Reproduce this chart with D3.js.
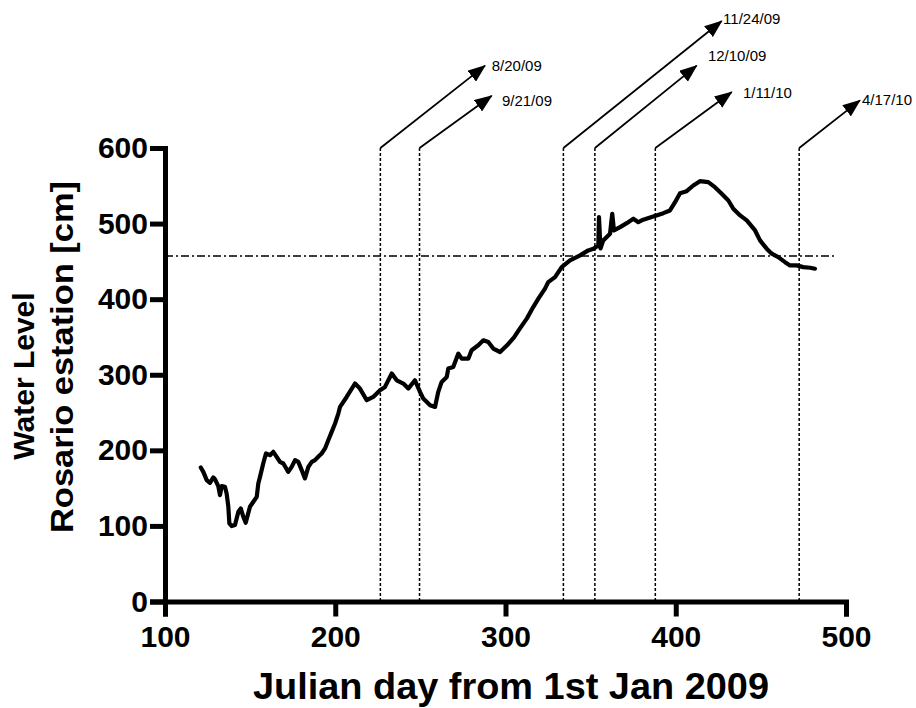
<!DOCTYPE html>
<html>
<head>
<meta charset="utf-8">
<script src="https://cdn.jsdelivr.net/npm/d3@7/dist/d3.min.js"></script>
<style>
  html, body { margin: 0; padding: 0; background: #fff; }
  svg { display: block; }
  text { font-family: "Liberation Sans", Arial, Helvetica, sans-serif; fill: #000; }
</style>
</head>
<body>
<svg id="chart" width="916" height="708"></svg>
<script>
// Water level at Rosario station, by Julian day counted from 1 Jan 2009
const waterDay = [
  121.0, 122.5, 124.5, 126.4, 128.4, 129.4, 131.3, 132.3, 133.3, 135.2,
  136.2, 137.2, 137.8, 139.2, 141.1, 143.1, 144.5, 146.0, 147.4, 148.6,
  149.9, 151.9, 153.9, 154.8, 155.8, 157.7, 159.3, 161.7, 163.6, 165.6,
  167.5, 169.5, 172.4, 174.4, 176.4, 178.3, 180.3, 182.2, 184.2, 186.2,
  188.1, 190.0, 192.0, 194.0, 195.9, 197.9, 199.9, 201.8, 202.8, 206.7,
  211.6, 214.5, 218.5, 222.3, 226.3, 229.2, 233.2, 236.1, 240.0, 242.9,
  246.8, 249.8, 251.7, 255.7, 258.6, 260.5, 262.5, 265.5, 266.4, 269.3,
  272.3, 274.3, 278.2, 280.1, 284.0, 287.0, 289.9, 292.8, 296.8, 300.9,
  305.0, 308.5, 312.6, 316.2, 319.3, 323.2, 325.1, 329.1, 333.0, 337.9,
  343.8, 348.6, 351.6, 354.5, 354.9, 355.8, 357.4, 361.4, 362.7, 363.7,
  367.3, 371.2, 375.1, 378.0, 380.9, 386.8, 392.7, 396.6, 399.6, 402.5,
  406.4, 410.3, 414.2, 419.1, 423.0, 427.0, 430.9, 433.8, 437.8, 441.7,
  446.6, 449.5, 453.4, 456.4, 460.2, 464.2, 467.1, 471.0, 474.9, 478.9,
  481.8
];
const waterLevel = [
  177.3, 171.5, 160.6, 157.0, 164.1, 161.5, 152.6, 140.7, 152.6, 151.7,
  143.0, 125.3, 103.3, 99.8, 101.1, 118.7, 123.2, 112.1, 104.1, 114.3,
  125.3, 131.9, 138.5, 156.2, 164.9, 182.6, 195.8, 193.6, 198.0, 191.4,
  184.7, 182.6, 171.5, 178.1, 187.0, 184.7, 173.8, 162.8, 178.1, 184.7,
  187.0, 191.4, 195.8, 202.5, 213.4, 224.4, 235.5, 248.7, 257.4, 270.6,
  288.4, 281.7, 266.3, 270.6, 279.5, 283.9, 301.6, 292.7, 288.4, 281.7,
  292.7, 277.3, 268.5, 259.7, 257.4, 277.3, 290.5, 297.1, 308.2, 310.3,
  328.0, 321.4, 321.4, 332.4, 339.0, 345.6, 343.3, 334.6, 330.1, 339.0,
  349.5, 361.4, 374.6, 389.2, 400.7, 413.9, 422.6, 429.2, 442.4, 451.3,
  457.9, 464.5, 466.7, 471.1, 508.5, 467.1, 477.7, 486.6, 513.0, 490.9,
  495.3, 500.6, 506.4, 501.9, 505.1, 509.4, 513.8, 517.4, 528.3, 540.2,
  542.9, 550.4, 556.1, 554.8, 548.2, 539.4, 530.6, 519.6, 510.8, 504.2,
  490.9, 477.7, 466.8, 460.1, 455.7, 449.0, 444.7, 444.7, 442.4, 441.6,
  440.3
];

// Axis ticks
const xTicks = [100, 200, 300, 400, 500];
const yTicks = [0, 100, 200, 300, 400, 500, 600];

// Reference level (dash-dot) and its extent
const referenceLevel = 457;
const referenceDays = [100, 494.5];

// Sampling dates: dotted marker day, arrow tip and label anchor (data units)
const eventLabels   = ["8/20/09", "9/21/09", "11/24/09", "12/10/09", "1/11/10", "4/17/10"];
const eventDays     = [226.5, 249.5, 334.0, 352.5, 388.0, 472.5];
const arrowTipDays  = [288.0, 291.9, 427.0, 412.3, 432.9, 508.2];
const arrowTipLevel = [709, 669, 768, 709, 674, 663];
const labelDays     = [291.9, 297.9, 427.8, 418.9, 439.5, 509.4];
const labelLevels   = [702.4, 656.1, 764.5, 715.6, 666.7, 657.4];

const svg = d3.select("#chart");

const x = d3.scaleLinear().domain([100, 500]).range([165, 846]);
const y = d3.scaleLinear().domain([0, 600]).range([601.5, 148]);

// Arrowhead
svg.append("defs").append("marker")
  .attr("id", "arrowhead")
  .attr("markerUnits", "userSpaceOnUse")
  .attr("viewBox", "0 0 18 14")
  .attr("markerWidth", 18)
  .attr("markerHeight", 14)
  .attr("refX", 17)
  .attr("refY", 7)
  .attr("orient", "auto")
  .append("path")
  .attr("d", "M0,0 L18,7 L0,14 Z")
  .attr("fill", "#000");

// Dotted verticals at each sampling date
svg.append("g").selectAll("line")
  .data(eventDays)
  .join("line")
  .attr("x1", d => x(d)).attr("x2", d => x(d))
  .attr("y1", y(600)).attr("y2", y(0))
  .attr("stroke", "#000")
  .attr("stroke-width", 1.5)
  .attr("stroke-dasharray", "3,2");

// Arrows pointing to the date labels
svg.append("g").selectAll("line")
  .data(eventDays)
  .join("line")
  .attr("x1", d => x(d))
  .attr("y1", y(600))
  .attr("x2", (d, i) => x(arrowTipDays[i]))
  .attr("y2", (d, i) => y(arrowTipLevel[i]))
  .attr("stroke", "#000")
  .attr("stroke-width", 1.8)
  .attr("marker-end", "url(#arrowhead)");

svg.append("g").selectAll("text")
  .data(eventLabels)
  .join("text")
  .attr("x", (d, i) => x(labelDays[i]))
  .attr("y", (d, i) => y(labelLevels[i]))
  .attr("font-size", 15)
  .attr("fill", "#222")
  .text(d => d);

// Reference level line
svg.append("line")
  .attr("x1", x(referenceDays[0]))
  .attr("x2", x(referenceDays[1]))
  .attr("y1", y(referenceLevel))
  .attr("y2", y(referenceLevel))
  .attr("stroke", "#000")
  .attr("stroke-width", 1.5)
  .attr("stroke-dasharray", "8,3,2,3");

// Water level series
const pts = waterDay.map((d, i) => [d, waterLevel[i]]);
svg.append("path")
  .datum(pts)
  .attr("fill", "none")
  .attr("stroke", "#000")
  .attr("stroke-width", 4.2)
  .attr("stroke-linejoin", "round")
  .attr("stroke-linecap", "round")
  .attr("d", d3.line().x(d => x(d[0])).y(d => y(d[1])));

// Axes
const xAxis = d3.axisBottom(x).tickValues(xTicks).tickSize(15).tickSizeOuter(15).tickPadding(9);
const yAxis = d3.axisLeft(y).tickValues(yTicks).tickSize(15).tickSizeOuter(15).tickPadding(2);

const gx = svg.append("g").attr("transform", `translate(0,${y(0)})`).call(xAxis);
const gy = svg.append("g").attr("transform", `translate(${x(100)},0)`).call(yAxis);

[gx, gy].forEach(g => {
  g.selectAll("path.domain").attr("stroke", "#000").attr("stroke-width", 5).attr("stroke-linejoin", "miter");
  g.selectAll(".tick line").attr("stroke", "#000").attr("stroke-width", 5);
  g.selectAll(".tick text")
    .attr("font-family", "'Liberation Sans', Arial, sans-serif")
    .attr("font-size", 30)
    .attr("font-weight", "bold")
    .attr("fill", "#000");
});

// Axis titles
svg.append("text")
  .attr("x", 511)
  .attr("y", 699)
  .attr("text-anchor", "middle")
  .attr("font-size", 37)
  .attr("font-weight", "bold")
  .attr("textLength", 516)
  .attr("lengthAdjust", "spacingAndGlyphs")
  .text("Julian day from 1st Jan 2009");

svg.append("text")
  .attr("transform", "translate(34,376) rotate(-90)")
  .attr("text-anchor", "middle")
  .attr("font-size", 30)
  .attr("font-weight", "bold")
  .text("Water Level");

svg.append("text")
  .attr("transform", "translate(73,357) rotate(-90)")
  .attr("text-anchor", "middle")
  .attr("font-size", 31)
  .attr("font-weight", "bold")
  .attr("textLength", 352)
  .attr("lengthAdjust", "spacingAndGlyphs")
  .text("Rosario estation [cm]");
</script>
</body>
</html>
